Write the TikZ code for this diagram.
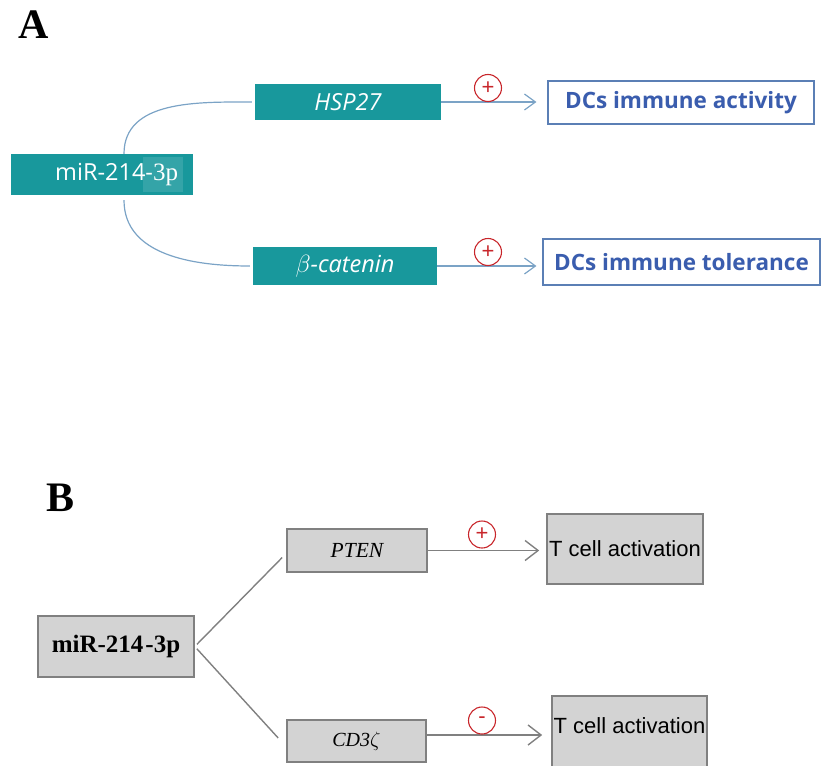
\documentclass[tikz,border=0pt]{standalone}
\usepackage{fontspec}
\setmainfont{Liberation Serif}
\newfontfamily\opensans{Open Sans}
\newfontfamily\arialfont{Liberation Sans}
\usetikzlibrary{arrows.meta}
\definecolor{mirteal}{HTML}{18989C}
\definecolor{linkblue}{HTML}{7BA3C6}
\definecolor{dcblue}{HTML}{3A5DAE}
\definecolor{dcframe}{HTML}{5B7FB5}
\definecolor{signred}{HTML}{C8262B}
\definecolor{boxgray}{HTML}{D3D3D3}
\definecolor{framegray}{HTML}{808080}
\tikzset{
  panellabel/.style={font=\fontsize{42}{44}\selectfont\bfseries, inner sep=0pt},
  tealbox/.style={fill=mirteal, text=white, inner sep=0pt, font=\opensans\fontsize{23.5}{26}\selectfont},
  dcbox/.style={draw=dcframe, line width=1.1pt, fill=white, text=dcblue, inner sep=0pt,
                font=\opensans\fontsize{22.5}{25}\selectfont\bfseries},
  graybox/.style={draw=framegray, line width=1.6pt, fill=boxgray, inner sep=0pt},
  signcirc/.style={circle, draw=signred, line width=1.1pt, text=signred, minimum size=27pt,
                   inner sep=0pt, font=\arialfont\fontsize{22}{22}\selectfont},
  linkA/.style={draw=linkblue, line width=1.2pt},
  linkB/.style={draw=framegray, line width=1.4pt},
}
\begin{document}
\begin{tikzpicture}[x=1pt, y=-1pt]
    \useasboundingbox (0,0) rectangle (821,765);
    % panel A
    \node[panellabel] (labA) at (34,25) {A};
    \node[tealbox, minimum width=182pt, minimum height=41pt, text width=152pt, align=right] (mirA) at (102,174.5) {miR-214-{\rmfamily\fontsize{25}{26}\selectfont 3p}};
    \fill[white, fill opacity=0.12] (143,157) rectangle (183,192);
    \node[tealbox, minimum width=186pt, minimum height=36pt, font=\opensans\itshape\fontsize{23.5}{26}\selectfont] (hsp) at (348,102) {HSP27};
    \node[tealbox, minimum width=184pt, minimum height=38pt, font=\opensans\itshape\fontsize{23.5}{26}\selectfont] (bcat) at (345,266) {\(\beta\)-catenin};
    \node[dcbox, minimum width=266pt, minimum height=43pt] (actA) at (681,102.5) {DCs immune activity};
    \node[dcbox, minimum width=277pt, minimum height=46pt] (tolA) at (681.5,262) {DCs immune tolerance};
    % curved links
    \draw[linkA] ([xshift=22pt]mirA.north) to[out=90, in=180] ([xshift=-3pt]hsp.west);
    \draw[linkA] ([xshift=22pt, yshift=-5pt]mirA.south) to[out=-90, in=180] ([xshift=-3pt]bcat.west);
    % arrows with signs
    \draw[linkA, -{Straight Barb[length=11pt, width=16pt]}, shorten >=11pt] (hsp.east) -- (hsp.east -| actA.west);
    \draw[linkA, -{Straight Barb[length=11pt, width=16pt]}, shorten >=6pt] (bcat.east) -- (bcat.east -| tolA.west);
    \node[signcirc] (plusA1) at (488,88) {+};
    \node[signcirc] (plusA2) at (488,252) {+};
    % panel B
    \node[panellabel] (labB) at (61,498) {B};
    \node[graybox, minimum width=156pt, minimum height=61pt, font=\fontsize{25}{28}\selectfont\bfseries] (mirB) at (116,646.5) {miR-214\kern2pt-3p};
    \node[graybox, minimum width=140pt, minimum height=43pt, font=\fontsize{21.5}{24}\selectfont\itshape] (pten) at (357,550.5) {PTEN};
    \node[graybox, minimum width=139pt, minimum height=42pt, font=\fontsize{20}{22}\selectfont\itshape] (cd3) at (356.5,741) {CD3\(\zeta\)};
    \node[graybox, minimum width=156pt, minimum height=70pt, font=\arialfont\fontsize{22}{24}\selectfont] (tcell1) at (625,549) {T cell activation};
    \node[graybox, minimum width=155pt, minimum height=80pt, text depth=20pt, font=\arialfont\fontsize{22}{24}\selectfont] (tcell2) at (629.5,736) {T cell activation};
    % branches
    \draw[linkB, shorten <=3pt] (mirB.east) -- ([shift={(-4,7)}]pten.west);
    \draw[linkB, shorten <=3pt] (mirB.east) -- ([shift={(-8,-3)}]cd3.west);
    % arrows with signs
    \coordinate (cdout) at ([yshift=6pt]cd3.east);
    \draw[linkB, -{Straight Barb[length=13pt, width=20pt]}, shorten >=7pt] (pten.east) -- (pten.east -| tcell1.west);
    \draw[linkB, -{Straight Barb[length=13pt, width=20pt]}, shorten >=9pt] (cdout) -- (cdout -| tcell2.west);
    \node[signcirc] (plusB) at (482,534.5) {+};
    \node[signcirc] (minusB) at (482,720.5) {-};
\end{tikzpicture}
\end{document}
